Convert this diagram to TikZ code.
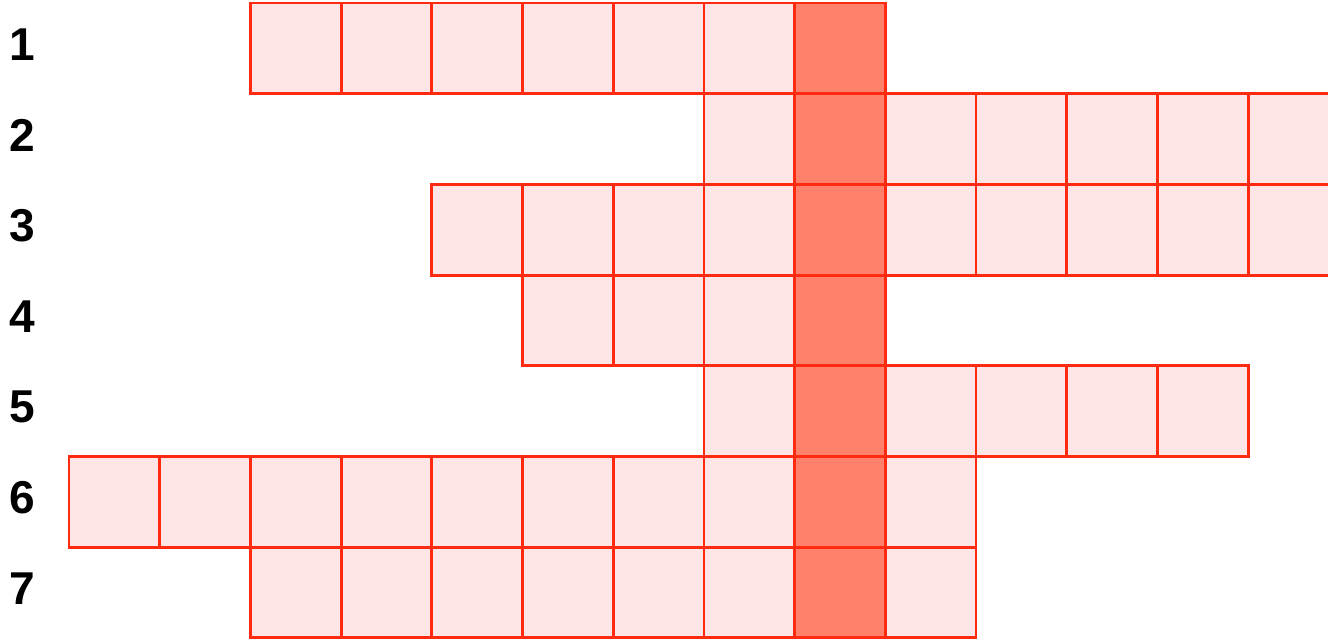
\documentclass[tikz,border=0pt]{standalone}
\usepackage{fontspec}
\setmainfont{Liberation Sans}
\usepackage{tikz}
\usetikzlibrary{positioning}
\definecolor{cwline}{HTML}{FF2A10}
\definecolor{cwfill}{HTML}{FFE6E6}
\definecolor{cwkey}{HTML}{FF806B}

\begin{document}
\begin{tikzpicture}[
  x=0.9cm, y=0.9cm,
  line join=miter,
  cell/.style={draw=cwline, line width=0.8pt, fill=cwfill, minimum size=0.9cm,
               inner sep=0pt, outer sep=0pt},
  keycell/.style={cell, fill=cwkey},
  rowlab/.style={font=\fontsize{13}{15}\selectfont\bfseries, text=black, inner sep=0pt},
]
\useasboundingbox (-0.761,0.033) rectangle (13.88,-7.022);

% ----- rows: number / first column / last column -----
\foreach \r/\a/\b in {1/2/8, 2/7/13, 3/4/13, 4/5/8, 5/7/12, 6/0/9, 7/2/9} {
  \node[rowlab] (lab\r) at (-0.519,{-(\r-1)-0.455}) {\r};
  \foreach \k in {\a,...,\b} {
    \ifnum\k=8
      \node[keycell] (c\r-\k) at ({\k+0.5},{-(\r-1)-0.5}) {};
    \else
      \node[cell] (c\r-\k) at ({\k+0.5},{-(\r-1)-0.5}) {};
    \fi
  }
}
\end{tikzpicture}
\end{document}
